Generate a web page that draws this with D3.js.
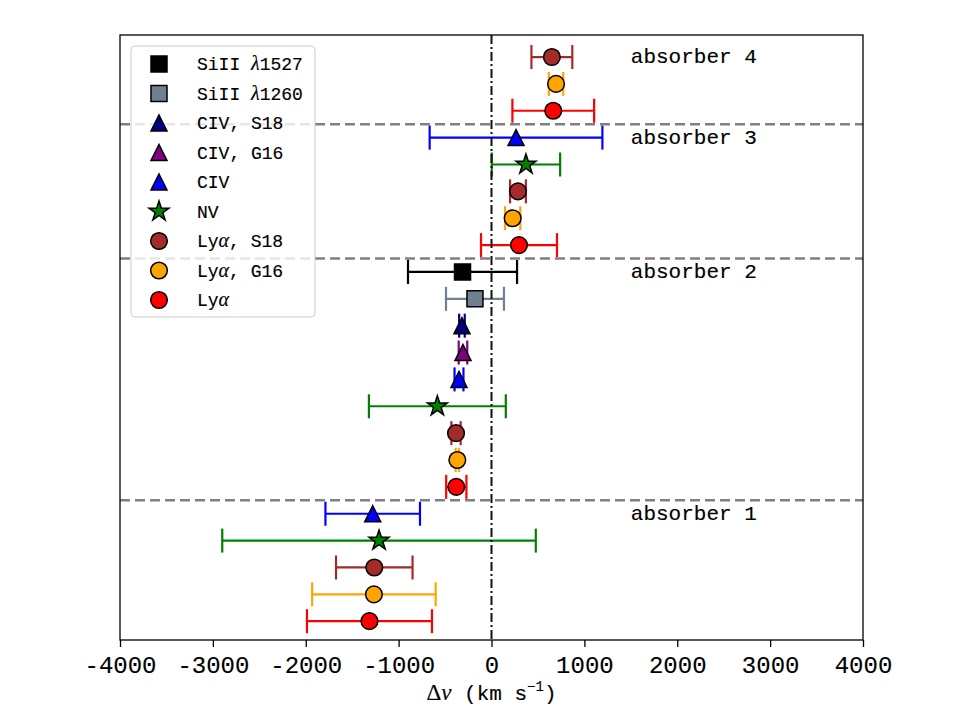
<!DOCTYPE html>
<html>
<head>
<meta charset="utf-8">
<script src="https://cdn.jsdelivr.net/npm/d3@7"></script>
<style>
  body { margin: 0; background: #fff; }
</style>
</head>
<body>
<div id="chart"></div>
<script>
// velocity offsets (km/s) per species, rows counted from bottom
const lyaRow = [1, 6, 15, 20];
const lyaV = [-1314, -379, 296, 665];
const lyaErr = [673, 109, 409, 440];

const lyaG16Row = [2, 7, 16, 21];
const lyaG16V = [-1266, -368, 228, 695];
const lyaG16Err = [665, 18, 82, 78];

const lyaS18Row = [3, 8, 17, 22];
const lyaS18V = [-1262, -382, 285, 650];
const lyaS18Err = [412, 50, 85, 220];

const nvRow = [4, 9, 18];
const nvV = [-1211, -583, 371];
const nvErr = [1688, 737, 368];

const civRow = [5, 10, 19];
const civV = [-1279, -350, 264];
const civErr = [509, 48, 930];

const civG16Row = [11];
const civG16V = [-307];
const civG16Err = [46];

const civS18Row = [12];
const civS18V = [-318];
const civS18Err = [30];

const si1260Row = [13];
const si1260V = [-178];
const si1260Err = [312];

const si1527Row = [14];
const si1527V = [-312];
const si1527Err = [587];

const separators = [5.5, 14.5, 19.5];
const absorberLabels = ['absorber 1', 'absorber 2', 'absorber 3', 'absorber 4'];
const absorberRow = [5, 14, 19, 22];
const absorberV = 1500;

const xTicks = [-4000, -3000, -2000, -1000, 0, 1000, 2000, 3000, 4000];
const xTickLabels = ['-4000', '-3000', '-2000', '-1000', '0', '1000', '2000', '3000', '4000'];

// series in plotting / legend order
const series = [
  { label: 'SiII λ1527', rows: si1527Row, v: si1527V, err: si1527Err, color: '#000000', shape: 'square' },
  { label: 'SiII λ1260', rows: si1260Row, v: si1260V, err: si1260Err, color: '#708090', shape: 'square' },
  { label: 'CIV, S18', rows: civS18Row, v: civS18V, err: civS18Err, color: '#000080', shape: 'triangle' },
  { label: 'CIV, G16', rows: civG16Row, v: civG16V, err: civG16Err, color: '#800080', shape: 'triangle' },
  { label: 'CIV', rows: civRow, v: civV, err: civErr, color: '#0000ff', shape: 'triangle' },
  { label: 'NV', rows: nvRow, v: nvV, err: nvErr, color: '#008000', shape: 'star' },
  { label: 'Lyα, S18', rows: lyaS18Row, v: lyaS18V, err: lyaS18Err, color: '#a52a2a', shape: 'circle' },
  { label: 'Lyα, G16', rows: lyaG16Row, v: lyaG16V, err: lyaG16Err, color: '#ffa500', shape: 'circle' },
  { label: 'Lyα', rows: lyaRow, v: lyaV, err: lyaErr, color: '#ff0000', shape: 'circle' }
];

const width = 960, height = 720;
const plotLeft = 120, plotRight = 863, plotTop = 35, plotBottom = 640;
const mono = '"Liberation Mono", "DejaVu Sans Mono", monospace';
const serif = '"Liberation Serif", "DejaVu Serif", serif';
const textStroke = 0.15; // thicken the thin mono glyphs a touch

const svg = d3.select('#chart')
  .append('svg')
  .attr('width', width)
  .attr('height', height);

const xScale = d3.scaleLinear().domain([-4000, 4000]).range([plotLeft, plotRight]);
const yScale = d3.scaleLinear().domain([0.3, 22.82]).range([plotBottom, plotTop]);

// marker shapes
function starPath(R) {
  const r = R * 0.382;
  const pts = d3.range(10).map(i => {
    const a = -Math.PI / 2 + i * Math.PI / 5;
    const rad = i % 2 ? r : R;
    return [rad * Math.cos(a), rad * Math.sin(a)];
  });
  return 'M' + pts.join('L') + 'Z';
}
function markerPath(shape) {
  if (shape === 'square') return 'M-8,-8H8V8H-8Z';
  if (shape === 'triangle') return 'M0,-8L8,8H-8Z';
  if (shape === 'star') return starPath(10.5);
  return d3.symbol(d3.symbolCircle, 218)();
}

// separators between absorbers
svg.append('g')
  .selectAll('line')
  .data(separators)
  .join('line')
  .attr('x1', plotLeft).attr('x2', plotRight)
  .attr('y1', d => yScale(d)).attr('y2', d => yScale(d))
  .attr('stroke', '#808080')
  .attr('stroke-width', 2.5)
  .attr('stroke-dasharray', '10,5');

const capHalf = 12;
series.forEach(s => {
  const pts = s.rows.map((r, i) => ({ y: r, v: s.v[i], e: s.err[i] }));
  const g = svg.append('g');
  g.selectAll('line.bar')
    .data(pts)
    .join('line')
    .attr('class', 'bar')
    .attr('x1', d => xScale(d.v - d.e)).attr('x2', d => xScale(d.v + d.e))
    .attr('y1', d => yScale(d.y)).attr('y2', d => yScale(d.y))
    .attr('stroke', s.color).attr('stroke-width', 2.2);
  ['lo', 'hi'].forEach(side => {
    g.selectAll('line.cap-' + side)
      .data(pts)
      .join('line')
      .attr('class', 'cap-' + side)
      .attr('x1', d => xScale(side === 'lo' ? d.v - d.e : d.v + d.e))
      .attr('x2', d => xScale(side === 'lo' ? d.v - d.e : d.v + d.e))
      .attr('y1', d => yScale(d.y) - capHalf).attr('y2', d => yScale(d.y) + capHalf)
      .attr('stroke', s.color).attr('stroke-width', 2.2);
  });
  g.selectAll('path')
    .data(pts)
    .join('path')
    .attr('d', markerPath(s.shape))
    .attr('transform', d => `translate(${xScale(d.v)},${yScale(d.y)})`)
    .attr('fill', s.color)
    .attr('stroke', '#000')
    .attr('stroke-width', 1.5);
});

// zero velocity line
svg.append('line')
  .attr('x1', xScale(0)).attr('x2', xScale(0))
  .attr('y1', plotTop).attr('y2', plotBottom)
  .attr('stroke', '#111')
  .attr('stroke-width', 2)
  .attr('stroke-dasharray', '9,3,2,3');

// absorber labels
svg.append('g')
  .selectAll('text')
  .data(absorberLabels)
  .join('text')
  .attr('x', xScale(absorberV))
  .attr('y', (d, i) => yScale(absorberRow[i]) + 6)
  .attr('font-family', mono)
  .attr('font-size', 21)
  .attr('fill', '#000')
  .attr('stroke', '#000').attr('stroke-width', textStroke)
  .text(d => d);

// frame
svg.append('rect')
  .attr('x', plotLeft).attr('y', plotTop)
  .attr('width', plotRight - plotLeft).attr('height', plotBottom - plotTop)
  .attr('fill', 'none')
  .attr('stroke', '#000')
  .attr('stroke-width', 1.3);

// x axis
const xAxis = svg.append('g')
  .attr('transform', `translate(0,${plotBottom})`)
  .call(d3.axisBottom(xScale)
    .tickValues(xTicks)
    .tickFormat((d, i) => xTickLabels[i])
    .tickSize(7)
    .tickPadding(9));
xAxis.select('.domain').remove();
xAxis.selectAll('line').attr('stroke', '#000').attr('stroke-width', 1.3);
xAxis.selectAll('text')
  .attr('font-family', mono)
  .attr('font-size', 24)
  .attr('fill', '#000')
  .attr('stroke', '#000').attr('stroke-width', textStroke);

// x axis title
const xTitle = svg.append('text')
  .attr('x', xScale(0))
  .attr('y', 700)
  .attr('text-anchor', 'middle')
  .attr('font-family', mono)
  .attr('font-size', 21)
  .attr('fill', '#000')
  .attr('stroke', '#000').attr('stroke-width', textStroke);
xTitle.append('tspan').attr('font-family', serif).attr('font-size', 23).text('Δ');
xTitle.append('tspan').attr('font-family', serif).attr('font-size', 23).attr('font-style', 'italic').text('v');
xTitle.append('tspan').text(' (km s');
xTitle.append('tspan').attr('font-size', 14).attr('dy', -9).text('−1');
xTitle.append('tspan').attr('dy', 9).text(')');

// legend
const legend = svg.append('g');
legend.append('rect')
  .attr('x', 131).attr('y', 46)
  .attr('width', 184).attr('height', 271)
  .attr('rx', 4)
  .attr('fill', '#fff').attr('fill-opacity', 0.8)
  .attr('stroke', '#ccc').attr('stroke-width', 1);

const legendRow = d3.scaleLinear().domain([0, 1]).range([64, 93.5]);
const items = legend.selectAll('g.item')
  .data(series)
  .join('g')
  .attr('class', 'item')
  .attr('transform', (d, i) => `translate(159,${legendRow(i)})`);
items.append('path')
  .attr('d', d => markerPath(d.shape))
  .attr('fill', d => d.color)
  .attr('stroke', '#000')
  .attr('stroke-width', 1.5);
items.each(function (d) {
  const t = d3.select(this).append('text')
    .attr('x', 38).attr('y', 6)
    .attr('font-family', mono)
    .attr('font-size', 18)
    .attr('fill', '#000')
    .attr('stroke', '#000').attr('stroke-width', textStroke);
  d.label.split(/([λα])/).filter(p => p).forEach(p => {
    const ts = t.append('tspan').text(p);
    if (p === 'λ' || p === 'α') ts.attr('font-family', serif).attr('font-size', 20).attr('font-style', 'italic');
  });
});
</script>
</body>
</html>
